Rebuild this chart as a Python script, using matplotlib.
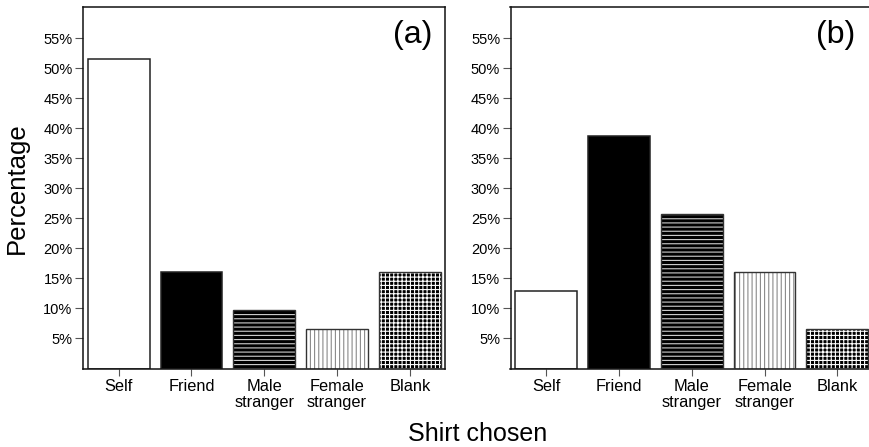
import matplotlib
matplotlib.use("Agg")
import matplotlib.pyplot as plt

plt.rcParams['font.family'] = ['Liberation Sans', 'DejaVu Sans']
plt.rcParams['hatch.linewidth'] = 0.8

categories = ["Self", "Friend", "Male\nstranger", "Female\nstranger", "Blank"]
values_a = [51.6, 16.1, 9.7, 6.5, 16.1]
values_b = [12.9, 38.7, 25.8, 16.1, 6.5]
yticks = [5, 10, 15, 20, 25, 30, 35, 40, 45, 50, 55]
ytick_labels = [f"{t}%" for t in yticks]
panel_labels = ["(a)", "(b)"]

# style per category: (facecolor, hatch, hatchcolor)
styles = [
    ("white", None, None),
    ("black", None, None),
    ("black", "----", "#cfcfcf"),
    ("white", "||||", "#8a8a8a"),
    ("black", "++++", "white"),
]

W, H = 869, 447
fig = plt.figure(figsize=(W / 100, H / 100), dpi=100)

ax_a = fig.add_axes([83 / W, 1 - 368.5 / H, 362.5 / W, 361.5 / H])
ax_b = fig.add_axes([510.5 / W, 1 - 368.5 / H, 362.5 / W, 361.5 / H])

for ax, vals, lab, lx in [(ax_a, values_a, panel_labels[0], 412.5),
                          (ax_b, values_b, panel_labels[1], 836)]:
    x = list(range(len(categories)))
    for i, v in enumerate(vals):
        fc, hatch, hc = styles[i]
        if hatch is None:
            ax.bar(x[i], v, width=0.85, color=fc, edgecolor="#222222",
                   linewidth=1.1, zorder=2)
        else:
            ax.bar(x[i], v, width=0.85, color=fc, edgecolor=hc,
                   hatch=hatch, linewidth=0, zorder=2)
            ax.bar(x[i], v, width=0.85, fill=False, edgecolor="#333333",
                   linewidth=1.0, zorder=3)
    ax.set_xlim(-0.49, len(categories) - 0.51)
    ax.set_ylim(0, 60.2)
    ax.set_yticks(yticks)
    ax.set_yticklabels(ytick_labels, fontsize=10.5)
    ax.set_xticks(x)
    ax.set_xticklabels(categories, fontsize=11.8, linespacing=1.05)
    ax.tick_params(axis='y', length=6, width=0.8, color="#555555", pad=1.5)
    ax.tick_params(axis='x', length=5, width=0.8, color="#555555", pad=2.5)
    for s in ax.spines.values():
        s.set_linewidth(1.1)
        s.set_color("#111111")
    fig.text(lx / W, 1 - 35 / H, lab, fontsize=23, ha='center', va='center')

fig.text(17 / W, 1 - 188 / H, "Percentage", fontsize=18.5, rotation=90,
         ha='center', va='center')
fig.text(478 / W, 1 - 434 / H, "Shirt chosen", fontsize=18,
         ha='center', va='center')

fig.savefig("out.png", dpi=100)
